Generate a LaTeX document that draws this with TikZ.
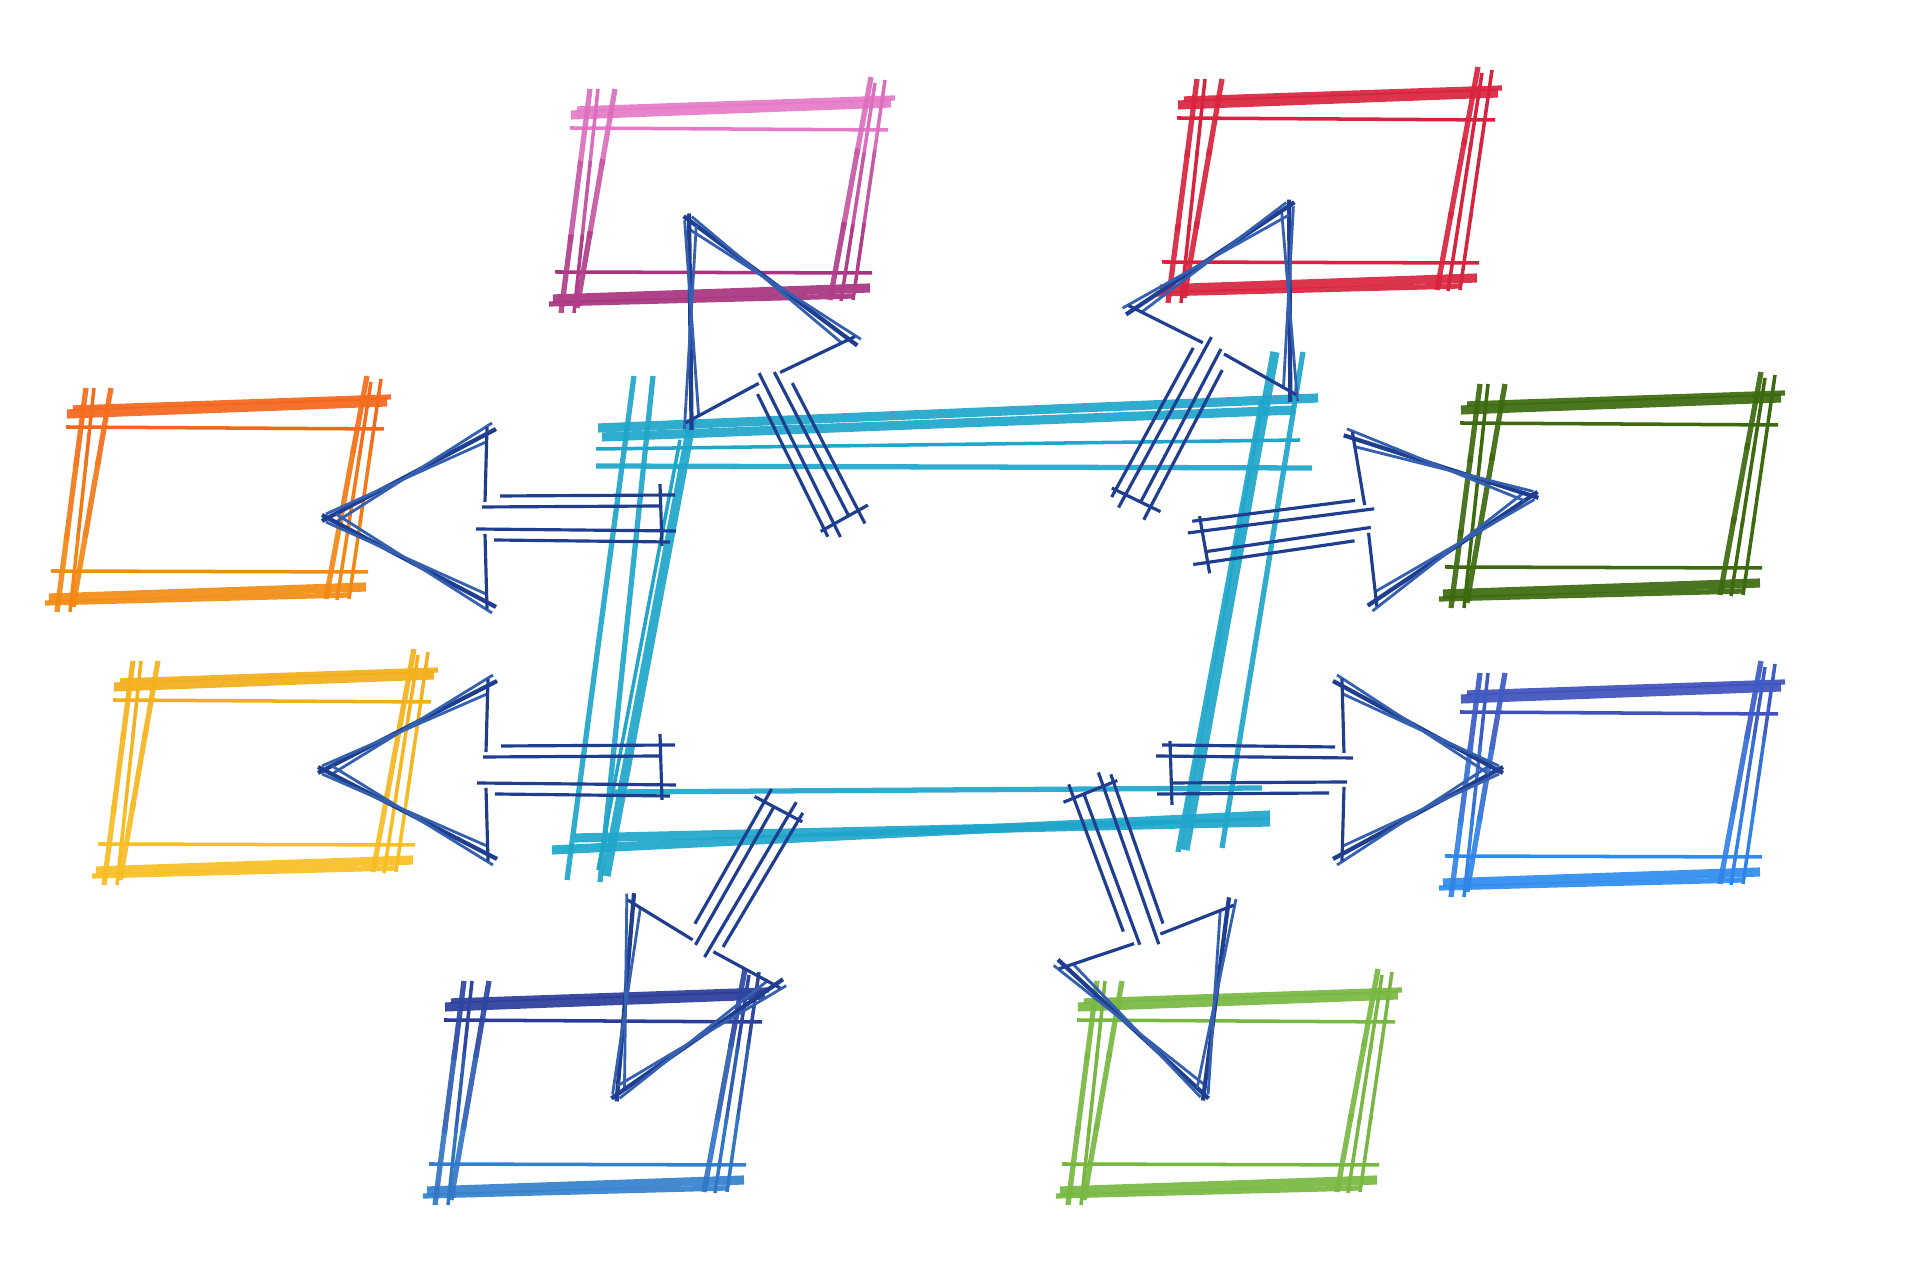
\documentclass[tikz,border=0pt]{standalone}
\usetikzlibrary{calc}
\definecolor{pinkT}{HTML}{E57AC8}
\definecolor{pinkB}{HTML}{A8347F}
\definecolor{redC}{HTML}{D8233E}
\definecolor{orangeT}{HTML}{F4661C}
\definecolor{orangeB}{HTML}{F38D12}
\definecolor{yellowT}{HTML}{F3AE1C}
\definecolor{yellowB}{HTML}{F8C024}
\definecolor{dgreen}{HTML}{3C6A0E}
\definecolor{blueRT}{HTML}{3F52BD}
\definecolor{blueRB}{HTML}{2E8CEF}
\definecolor{blueLT}{HTML}{2B3C9A}
\definecolor{blueLB}{HTML}{3381CC}
\definecolor{lgreen}{HTML}{78B842}
\definecolor{cyanC}{HTML}{1FA6CA}
\definecolor{navy}{HTML}{1F3E90}
\definecolor{navyL}{HTML}{3560B0}
\tikzset{
  cthick/.style={line width=2.6pt,opacity=0.92},
  cmid/.style={line width=1.5pt,opacity=0.92},
  cthin/.style={line width=1.0pt},
  arrh/.style={line width=1.2pt,color=navy},
  arrhb/.style={line width=0.8pt,color=navyL},
  arrl/.style={line width=0.9pt,color=navy},
}
% gradient line in three segments
\newcommand{\gline}[5]{%
  \draw[#1,color=#2!85!#3] #4 -- ($#4!0.35!#5$);
  \draw[#1,color=#2!50!#3] ($#4!0.32!#5$) -- ($#4!0.68!#5$);
  \draw[#1,color=#2!15!#3] ($#4!0.65!#5$) -- #5;
}
% crayon box: origin x, y, top colour, bottom colour
\newcommand{\crayonbox}[4]{%
\begin{scope}[shift={(#1,#2)}]
  \draw[cthick,color=#3] (-2,2) -- (318,-10);
  \draw[cmid,color=#3] (4,-4) -- (322,-15);
  \draw[cthin,color=#3] (-3,15) -- (315,17);
  \draw[cthin,color=#4] (-18,159) -- (299,160);
  \draw[cthick,color=#4] (-20,186) -- (297,175);
  \draw[cmid,color=#4] (-24,191) -- (280,183);
  \gline{cmid}{#3}{#4}{(17,-24)}{(-12,200)}
  \gline{cthin}{#3}{#4}{(25,-24)}{(1,200)}
  \gline{cmid}{#3}{#4}{(42,-24)}{(4,195)}
  \gline{cmid}{#3}{#4}{(298,-36)}{(257,187)}
  \gline{cthin}{#3}{#4}{(312,-33)}{(280,187)}
  \gline{cthin}{#3}{#4}{(302,-30)}{(268,188)}
\end{scope}}
% sketched block arrow: tip x, tip y, angle, head length, head half width, shaft half width, length
\newcommand{\sketcharrow}[7]{%
\begin{scope}[shift={(#1,#2)},rotate=#3]
  \draw[arrh] ({-#4-8},{#5+6}) -- (8,-3);
  \draw[arrhb] ({-#4+2},{#5-7}) -- (4,4);
  \draw[arrhb] ({-#4-4},{#5+12}) -- (-6,-4);
  \draw[arrh] ({-#4-8},{-#5-6}) -- (8,3);
  \draw[arrhb] ({-#4+2},{-#5+7}) -- (4,-4);
  \draw[arrhb] ({-#4-4},{-#5-12}) -- (-6,4);
  \draw[arrl] ({-#4+1},{-#5-8}) -- ({-#4+3},{-#6+6});
  \draw[arrl] ({-#4+1},{#5+8}) -- ({-#4+3},{#6-6});
  \draw[arrl] ({-#4-6},{-#6}) -- ({-#7+2},{-#6-2});
  \draw[arrl] ({-#4+12},{-#6+11}) -- ({-#7-4},{-#6+9});
  \draw[arrl] ({-#4-12},{#6}) -- ({-#7-3},{#6+1});
  \draw[arrl] ({-#4+6},{#6-11}) -- ({-#7+12},{#6-10});
  \draw[arrl] ({-#7+10},{-#6-6}) -- ({-#7+12},{#6+12});
\end{scope}}
\begin{document}
\begin{tikzpicture}[x=0.01cm,y=-0.01cm]
\useasboundingbox (0,0) rectangle (1920,1280);
\fill[white] (0,0) rectangle (1920,1280);

% surrounding boxes
\crayonbox{573}{113}{pinkT}{pinkB}
\crayonbox{1180}{103}{redC}{redC}
\crayonbox{69}{412}{orangeT}{orangeB}
\crayonbox{1463}{408}{dgreen}{dgreen}
\crayonbox{116}{685}{yellowT}{yellowB}
\crayonbox{1463}{697}{blueRT}{blueRB}
\crayonbox{447}{1005}{blueLT}{blueLB}
\crayonbox{1080}{1005}{lgreen}{lgreen}

% central cyan box
\begin{scope}[color=cyanC]
  \draw[cthick] (598,428) -- (1318,398);
  \draw[cthick] (602,437) -- (1295,410);
  \draw[cthin] (596,449) -- (1300,440);
  \draw[cmid] (596,466) -- (1312,468);
  \draw[cmid] (634,376) -- (567,880);
  \draw[cmid] (653,376) -- (600,882);
  \draw[cthick] (692,420) -- (606,876);
  \draw[cthin] (680,440) -- (598,870);
  \draw[cthick] (1275,352) -- (1185,850);
  \draw[cmid] (1262,400) -- (1178,852);
  \draw[cmid] (1303,352) -- (1222,848);
  \draw[cmid] (612,792) -- (1262,788);
  \draw[cthick] (552,850) -- (1270,815);
  \draw[cthick] (575,838) -- (1270,822);
\end{scope}

% arrows
\sketcharrow{330}{518}{180}{158}{83}{22}{342}
\sketcharrow{326}{770}{180}{163}{83}{24}{346}
\sketcharrow{1530}{496}{8}{168}{80}{20}{340}
\sketcharrow{1495}{770}{0}{154}{83}{23}{335}
\sketcharrow{690}{222}{117}{178}{87}{18}{345}
\sketcharrow{1288}{208}{62}{162}{87}{18}{340}
\sketcharrow{618}{1093}{240}{173}{80}{18}{337}
\sketcharrow{1203}{1092}{-70}{166}{85}{20}{332}
\end{tikzpicture}
\end{document}
